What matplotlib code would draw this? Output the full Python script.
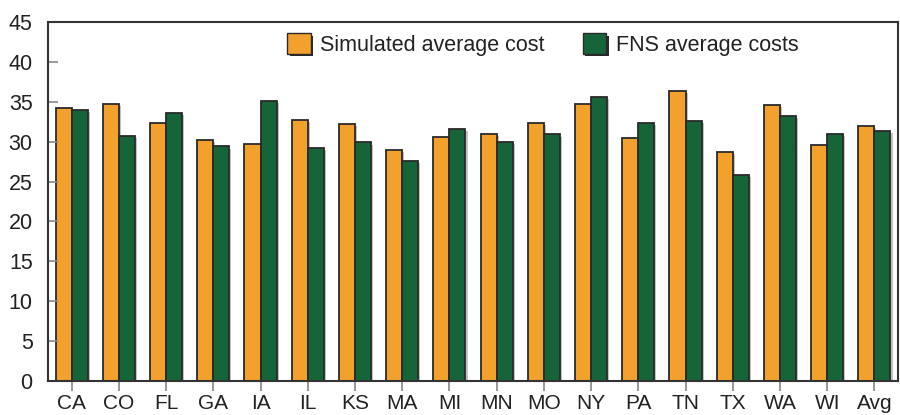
import numpy as np
import matplotlib.pyplot as plt
import matplotlib.patheffects as pe
from matplotlib.patches import Patch

# Data
states = ['CA', 'CO', 'FL', 'GA', 'IA', 'IL', 'KS', 'MA', 'MI', 'MN',
          'MO', 'NY', 'PA', 'TN', 'TX', 'WA', 'WI', 'Avg']
simulated = [34.2, 34.75, 32.3, 30.25, 29.7, 32.75, 32.25, 29.0, 30.6, 31.0,
             32.4, 34.75, 30.4, 36.3, 28.7, 34.6, 29.6, 32.0]
fns = [34.0, 30.7, 33.6, 29.4, 35.1, 29.2, 29.9, 27.6, 31.6, 30.0,
       30.9, 35.6, 32.3, 32.6, 25.8, 33.2, 31.0, 31.3]

orange = '#f2a12d'
green = '#156538'
edge = '#2a2a2a'
txt = '#222222'

plt.rcParams['font.family'] = ['Liberation Sans', 'DejaVu Sans']

fig = plt.figure(figsize=(9, 4.15), dpi=100)
ax = fig.add_axes([48 / 900, 34 / 415, 850 / 900, 359 / 415])

x = np.arange(len(states))
w = 0.34
shadow = [pe.SimplePatchShadow(offset=(1.5, -1.5), shadow_rgbFace='#999999', alpha=0.6), pe.Normal()]

b1 = ax.bar(x - w / 2, simulated, w, color=orange, edgecolor=edge, linewidth=1.3)
b2 = ax.bar(x + w / 2, fns, w, color=green, edgecolor=edge, linewidth=1.3)
for b in list(b1) + list(b2):
    b.set_path_effects(shadow)

ax.set_xlim(-0.5, len(states) - 0.5)
ax.set_ylim(0, 45)
ax.set_yticks(range(0, 46, 5))
ax.set_xticks(x)
ax.set_xticklabels(states)

ax.tick_params(axis='y', direction='in', length=7, width=1.2, color='#888888',
               labelsize=15.5, labelcolor=txt, pad=11)
ax.tick_params(axis='x', direction='out', length=7, width=1.2, color='#888888',
               labelsize=15, labelcolor=txt, pad=2.5)
for s in ax.spines.values():
    s.set_color('#333333')
    s.set_linewidth(1.5)

# legend with shadowed square handles
leg_shadow = [pe.SimplePatchShadow(offset=(2, -2), shadow_rgbFace='#111111', alpha=0.9), pe.Normal()]
h1 = Patch(facecolor=orange, edgecolor=edge, linewidth=1.0)
h2 = Patch(facecolor=green, edgecolor=edge, linewidth=1.0)
leg = ax.legend([h1, h2], ['Simulated average cost', 'FNS average costs'],
                ncol=2, frameon=False, fontsize=15.5, loc='upper left',
                bbox_to_anchor=(287 / 900, 1 - 33 / 415), bbox_transform=fig.transFigure,
                handlelength=1.1, handleheight=1.1, handletextpad=0.45,
                columnspacing=1.75, borderaxespad=0, borderpad=0)
for t in leg.get_texts():
    t.set_color(txt)
for p in leg.get_patches():
    p.set_path_effects(leg_shadow)

fig.savefig('out.png', dpi=100)
